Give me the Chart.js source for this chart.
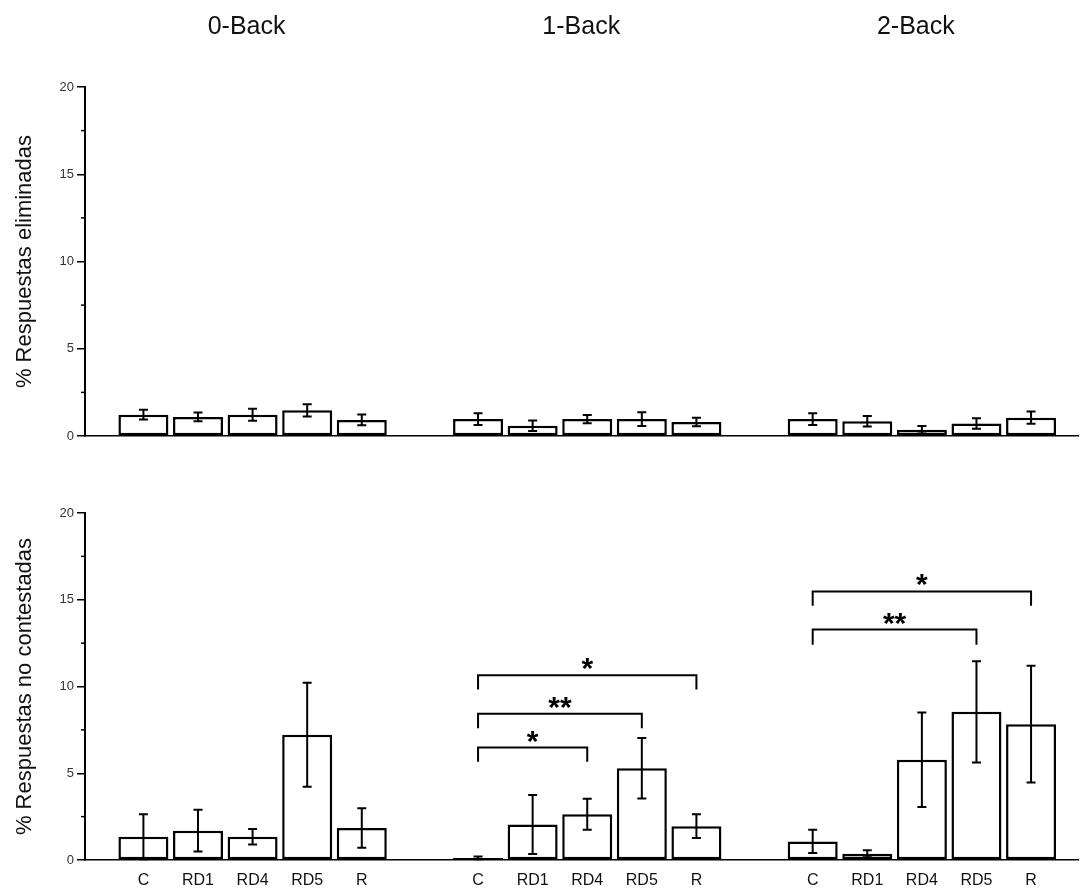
<!DOCTYPE html>
<html>
<head>
<meta charset="utf-8">
<script src="https://cdn.jsdelivr.net/npm/chart.js@4.4.1/dist/chart.umd.min.js"></script>
<style>
  body { margin: 0; background: #fff; }
  .panel { position: absolute; left: 0; width: 1080px; }
  #topPanel { top: 0; height: 450px; }
  #bottomPanel { top: 450px; height: 440px; }
</style>
</head>
<body>
<div class="panel" id="topPanel"><canvas id="elimChart"></canvas></div>
<div class="panel" id="bottomPanel"><canvas id="noRespChart"></canvas></div>
<script>
const conditions = ["C", "RD1", "RD4", "RD5", "R"];
const tasks = ["0-Back", "1-Back", "2-Back"];
const yTicks = [0, 5, 10, 15, 20];

// % Respuestas eliminadas: mean and error per condition
const elim0Back = [1.22, 1.09, 1.22, 1.47, 0.92];
const elim0BackErr = [0.28, 0.25, 0.34, 0.35, 0.31];
const elim1Back = [0.97, 0.59, 0.97, 0.97, 0.80];
const elim1BackErr = [0.34, 0.30, 0.24, 0.39, 0.24];
const elim2Back = [0.97, 0.84, 0.36, 0.72, 1.05];
const elim2BackErr = [0.34, 0.30, 0.22, 0.30, 0.35];

// % Respuestas no contestadas: mean and error per condition
const noResp0Back = [1.34, 1.69, 1.34, 7.22, 1.84];
const noResp0BackErr = [1.30, 1.20, 0.44, 3.00, 1.14];
const noResp1Back = [0.12, 2.05, 2.64, 5.29, 1.95];
const noResp1BackErr = [0.08, 1.70, 0.89, 1.74, 0.68];
const noResp2Back = [1.07, 0.36, 5.78, 8.54, 7.83];
const noResp2BackErr = [0.67, 0.20, 2.72, 2.92, 3.36];

// significance brackets (bottom panel): task, from/to condition, line level, leg end, label
const bracketTask = [1, 1, 1, 2, 2];
const bracketFrom = [0, 0, 0, 0, 0];
const bracketTo = [2, 3, 4, 3, 4];
const bracketLevel = [6.48, 8.43, 10.65, 13.28, 15.48];
const bracketLegEnd = [5.67, 7.59, 9.83, 12.41, 14.66];
const bracketLabel = ["*", "**", "*", "**", "*"];

const FONT = "'Liberation Sans', Arial, Helvetica, sans-serif";
const GROUP_STEP = 6.13; // distance between the first bars of two tasks, in bar slots

function slot(g, i) {
  return g * GROUP_STEP + i;
}

const barSlots = [];
tasks.forEach((t, g) => conditions.forEach((c, i) => barSlots.push(slot(g, i))));

function buildPoints(series) {
  const pts = [];
  series.forEach((vals, g) => {
    vals.forEach((v, i) => pts.push({ x: slot(g, i), y: v }));
  });
  return pts;
}

function flatten(series) {
  return series.reduce((all, s) => all.concat(s), []);
}

/* ---------- plugins ---------- */

const errorBarsPlugin = {
  id: "errorBars",
  afterDatasetsDraw(chart) {
    const { ctx, scales } = chart;
    const x = scales.x;
    const y = scales.y;
    chart.data.datasets.forEach((ds) => {
      if (!ds.errors) return;
      ctx.save();
      ctx.strokeStyle = "#000";
      ctx.lineWidth = 2;
      ds.data.forEach((p, i) => {
        const e = ds.errors[i];
        const px = x.getPixelForValue(p.x);
        const hi = y.getPixelForValue(p.y + e);
        const lo = y.getPixelForValue(Math.max(0, p.y - e));
        ctx.beginPath();
        ctx.moveTo(px, hi);
        ctx.lineTo(px, lo);
        ctx.moveTo(px - 4.5, hi);
        ctx.lineTo(px + 4.5, hi);
        ctx.moveTo(px - 4.5, lo);
        ctx.lineTo(px + 4.5, lo);
        ctx.stroke();
      });
      ctx.restore();
    });
  }
};

// short ticks halfway between the labelled ones
const minorTicksPlugin = {
  id: "minorTicks",
  afterDraw(chart) {
    const { ctx, chartArea } = chart;
    const y = chart.scales.y;
    ctx.save();
    ctx.strokeStyle = "#000";
    ctx.lineWidth = 1.5;
    for (let k = 0; k < yTicks.length - 1; k++) {
      const v = (yTicks[k] + yTicks[k + 1]) / 2;
      const py = y.getPixelForValue(v);
      ctx.beginPath();
      ctx.moveTo(chartArea.left - 4, py);
      ctx.lineTo(chartArea.left, py);
      ctx.stroke();
    }
    ctx.restore();
  }
};

const taskTitlesPlugin = {
  id: "taskTitles",
  afterDraw(chart) {
    const { ctx } = chart;
    const x = chart.scales.x;
    ctx.save();
    ctx.fillStyle = "#111";
    ctx.font = "25px " + FONT;
    ctx.textAlign = "center";
    ctx.textBaseline = "middle";
    tasks.forEach((t, g) => {
      const cx = x.getPixelForValue(slot(g, 2)) - 6;
      ctx.fillText(t, cx, 27);
    });
    ctx.restore();
  }
};

const bracketsPlugin = {
  id: "brackets",
  afterDraw(chart) {
    const { ctx } = chart;
    const x = chart.scales.x;
    const y = chart.scales.y;
    ctx.save();
    ctx.strokeStyle = "#000";
    ctx.fillStyle = "#000";
    ctx.lineWidth = 2;
    ctx.font = "bold 30px " + FONT;
    ctx.textAlign = "center";
    ctx.textBaseline = "alphabetic";
    bracketTask.forEach((g, k) => {
      const x1 = x.getPixelForValue(slot(g, bracketFrom[k]));
      const x2 = x.getPixelForValue(slot(g, bracketTo[k]));
      const top = y.getPixelForValue(bracketLevel[k]);
      const leg = y.getPixelForValue(bracketLegEnd[k]);
      ctx.beginPath();
      ctx.moveTo(x1, leg);
      ctx.lineTo(x1, top);
      ctx.lineTo(x2, top);
      ctx.lineTo(x2, leg);
      ctx.stroke();
      ctx.fillText(bracketLabel[k], (x1 + x2) / 2, top + 3);
    });
    ctx.restore();
  }
};

/* ---------- chart builder ---------- */

function makePanel(canvasId, yTitle, means, errs, opts) {
  const ctx = document.getElementById(canvasId).getContext("2d");
  const plugins = [errorBarsPlugin, minorTicksPlugin].concat(opts.extraPlugins || []);

  return new Chart(ctx, {
    type: "bar",
    data: {
      datasets: [
        {
          data: buildPoints(means),
          errors: flatten(errs),
          backgroundColor: "#fff",
          borderColor: "#000",
          borderWidth: 2.5,
          borderSkipped: false,
          barPercentage: 0.916,
          categoryPercentage: 1
        }
      ]
    },
    options: {
      responsive: true,
      maintainAspectRatio: false,
      animation: false,
      layout: {
        padding: { top: opts.padTop, right: 2, bottom: opts.padBottom, left: 0 }
      },
      plugins: {
        legend: { display: false },
        tooltip: { enabled: false }
      },
      scales: {
        x: {
          type: "linear",
          min: -1.07,
          max: slot(tasks.length - 1, conditions.length - 1) + 0.86,
          offset: false,
          grid: { display: false, offset: false },
          border: { color: "#000", width: 1.5 },
          ticks: {
            display: opts.showLabels,
            autoSkip: false,
            maxRotation: 0,
            padding: 3,
            color: "#111",
            font: { family: FONT, size: 16 },
            callback: (value, index) => conditions[index % conditions.length]
          },
          afterBuildTicks(scale) {
            scale.ticks = barSlots.map((v) => ({ value: v }));
          },
          afterFit(scale) {
            scale.height = opts.xHeight;
          }
        },
        y: {
          min: 0,
          max: 20,
          ticks: {
            stepSize: 5,
            padding: 3,
            color: "#333",
            font: { family: FONT, size: 13 }
          },
          grid: {
            drawOnChartArea: false,
            drawTicks: true,
            tickLength: 8,
            color: "#000",
            lineWidth: 1.5
          },
          border: { color: "#000", width: 2 },
          title: {
            display: true,
            text: yTitle,
            color: "#111",
            font: { family: FONT, size: 22 },
            padding: { top: 12, bottom: 0 }
          },
          afterFit(scale) {
            scale.width = 85;
          }
        }
      }
    },
    plugins
  });
}

makePanel(
  "elimChart",
  "% Respuestas eliminadas",
  [elim0Back, elim1Back, elim2Back],
  [elim0BackErr, elim1BackErr, elim2BackErr],
  { padTop: 87, padBottom: 14, xHeight: 0, showLabels: false, extraPlugins: [taskTitlesPlugin] }
);

makePanel(
  "noRespChart",
  "% Respuestas no contestadas",
  [noResp0Back, noResp1Back, noResp2Back],
  [noResp0BackErr, noResp1BackErr, noResp2BackErr],
  { padTop: 63, padBottom: 0, xHeight: 30, showLabels: true, extraPlugins: [bracketsPlugin] }
);
</script>
</body>
</html>
